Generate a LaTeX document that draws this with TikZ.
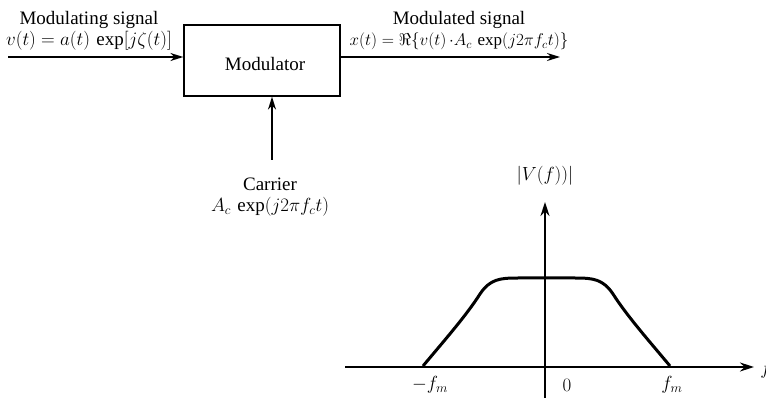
\RequirePackage{fix-cm}
\documentclass[tikz,border=0pt]{standalone}
\usepackage{fontspec}
\setmainfont{Liberation Serif}
\usetikzlibrary{arrows.meta}
\begin{document}
\begin{tikzpicture}[x=1pt,y=-1pt,
  lbl/.style={font=\fontsize{19}{21}\selectfont, align=center, inner sep=0pt},
  arr/.style={line width=1.8pt, -{Stealth[length=13pt,width=8pt]}},
  axis/.style={line width=1.8pt, -{Stealth[length=14pt,width=9pt]}},
  blk/.style={draw, line width=1.3pt, minimum width=156pt, minimum height=71pt, inner sep=0pt}]
\useasboundingbox (0,0) rectangle (766,398);
% block diagram
\node[blk] (mod) at (262,60.5) {};
\node[lbl] (modt) at (265,64) {Modulator};
\coordinate (inS) at (8,57);
\coordinate (outE) at (560,57);
\coordinate (carS) at (272,160);
\draw[arr] (inS) -- (inS -| mod.west);
\draw[arr] (outE -| mod.east) -- (outE);
\draw[arr] (carS) -- (carS |- mod.south);
\node[lbl] (inlbl) at (89,31) {Modulating signal\\$v(t) = a(t)\,\exp[j\zeta(t)]$};
\node[lbl] (outlbl) at (459,31) {Modulated signal\\{\fontsize{17}{21}\selectfont $x(t) = \Re\{v(t)\,{\cdot}A_c\,\exp(j2\pi f_c t)\}$}};
\node[lbl] (carlbl) at (270,197) {Carrier\\$A_c\,\exp(j2\pi f_c t)$};
% spectrum
\coordinate (hS) at (345,367);
\coordinate (hE) at (754,367);
\coordinate (vS) at (545,398);
\coordinate (vE) at (545,202);
\draw[axis] (hS) -- (hE);
\draw[axis] (vS) -- (vE);
\node[lbl] (vlab) at (545,176) {$|V(f))|$};
\node[lbl] (flab) at (766,370) {$f$};
\node[lbl] (mfm) at (430,385) {$-f_m$};
\node[lbl] (zero) at (567,385) {$0$};
\node[lbl] (fm) at (672,385) {$f_m$};
\draw[line width=3pt, line join=round]
  (423,366) .. controls (443,342) and (466,316) .. (480,294)
  .. controls (490,279) and (500,278) .. (518,278)
  -- (575,278)
  .. controls (593,278) and (603,279) .. (613,294)
  .. controls (627,316) and (650,342) .. (670,366);
\end{tikzpicture}
\end{document}
